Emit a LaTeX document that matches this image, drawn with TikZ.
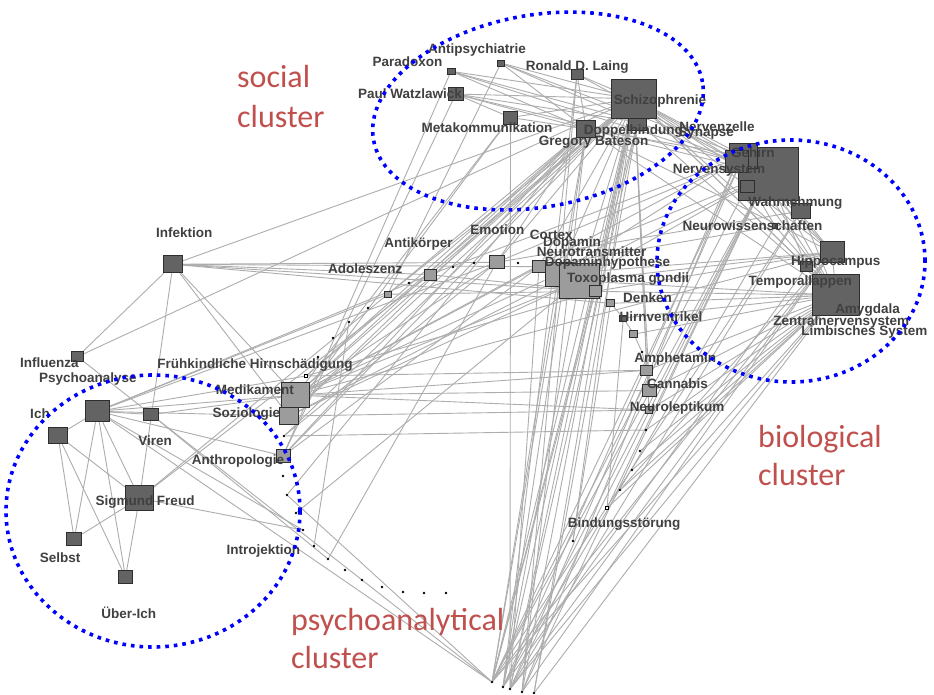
\documentclass[tikz,border=0pt]{standalone}
\usepackage{fontspec}
\newfontfamily\labfont{Liberation Sans}
\newfontfamily\clfont{Carlito}
\definecolor{dkfill}{HTML}{636363}
\definecolor{ltfill}{HTML}{9C9C9C}
\definecolor{dkline}{HTML}{2E2E2E}
\definecolor{edgegray}{HTML}{ADADAD}
\definecolor{labgray}{HTML}{404040}
\definecolor{redc}{HTML}{C0504D}
\pgfdeclarelayer{back}
\pgfdeclarelayer{bg}
\pgfsetlayers{back,bg,main}
\begin{document}
\begin{tikzpicture}[x=1pt,y=-1pt,
  dk/.style={rectangle,draw=dkline,fill=dkfill,line width=0.9pt,inner sep=0pt},
  lt/.style={rectangle,draw=dkline,fill=ltfill,line width=0.9pt,inner sep=0pt},
  sz/.style 2 args={minimum width=#1pt,minimum height=#2pt},
  tdot/.style={circle,fill=black,inner sep=0pt,minimum size=2.6pt},
  sdot/.style={rectangle,draw=black,fill=white,line width=0.7pt,inner sep=0pt,minimum size=3.6pt},
  edge/.style={draw=edgegray,line width=0.9pt},
  lab/.style={font=\labfont\bfseries\fontsize{13.5}{14}\selectfont,text=labgray,inner sep=0pt},
  redlab/.style={font=\clfont\fontsize{32}{32}\selectfont,text=redc,inner sep=0pt,anchor=base west},
  cluster/.style={draw=blue,line width=3.6pt,dash pattern=on 3.6pt off 5pt}
]
\useasboundingbox (0,0) rectangle (934,694);
\begin{pgfonlayer}{back}
\fill[white] (0,0) rectangle (934,694);
\end{pgfonlayer}

% ---- social cluster nodes
\node[dk,sz={8}{6}] (para) at (451,71.3) {};
\node[dk,sz={7}{6}] (anti) at (501,63) {};
\node[dk,sz={12}{10}] (laing) at (577,74.3) {};
\node[dk,sz={15}{13}] (watz) at (455.8,94) {};
\node[dk,sz={14}{13}] (meta) at (510.5,117.5) {};
\node[dk,sz={18}{16}] (schizoB) at (637.7,122) {};
\node[dk,sz={45}{39}] (schizo) at (634.3,98.8) {};
\node[dk,sz={19}{17}] (doppel) at (586.3,129) {};
% ---- biological cluster nodes
\node[dk,sz={60}{53}] (big) at (768,174) {};
\node[dk,sz={28}{25}] (gehirn) at (743.5,156) {};
\node[dk,sz={23}{22}] (nsys) at (737,161.5) {};
\node[dk,sz={14}{12}] (smallg) at (747,186) {};
\node[dk,sz={19}{15}] (wahr) at (801,211) {};
\node[dk,sz={5}{5}] (neurow) at (775,226) {};
\node[dk,sz={24}{21}] (hippo) at (832.3,252.3) {};
\node[dk,sz={12}{10}] (tempo) at (806.7,266.7) {};
\node[dk,sz={47}{41}] (amyg) at (835.8,295.3) {};
% ---- left / psychoanalytical nodes
\node[dk,sz={19}{17}] (infek) at (173,264.3) {};
\node[dk,sz={12}{10}] (influ) at (77.5,356.7) {};
\node[dk,sz={24}{21}] (psy) at (97.5,411.3) {};
\node[dk,sz={19}{16}] (ich) at (58,435.3) {};
\node[dk,sz={15}{12}] (viren) at (151.3,414.5) {};
\node[dk,sz={28}{25}] (freud) at (139.5,498.2) {};
\node[dk,sz={15}{13}] (selbst) at (74.2,539) {};
\node[dk,sz={14}{13}] (ueber) at (125.5,577) {};
% ---- light middle nodes
\node[lt,sz={28}{25}] (medi) at (295.8,395.2) {};
\node[lt,sz={19}{17}] (sozio) at (288.8,416) {};
\node[lt,sz={14}{13}] (anthro) at (283,455.8) {};
\node[lt,sz={12}{11}] (antik) at (430,274.7) {};
\node[lt,sz={7}{6}] (adol) at (387.8,294.2) {};
\node[lt,sz={15}{13}] (emo) at (496.7,262.3) {};
\node[lt,sz={13}{12}] (cortex) at (539,266.7) {};
\node[lt,sz={27}{24}] (dopa) at (558.5,274) {};
\node[lt,sz={40}{35}] (nt) at (579.3,280.8) {};
\node[lt,sz={12}{11}] (toxo) at (595.5,291.3) {};
\node[lt,sz={8}{7}] (denken) at (610.5,303.3) {};
\node[dk,sz={7}{6}] (hv) at (623.3,318) {};
\node[lt,sz={8}{7}] (hv2) at (633.8,334.2) {};
\node[lt,sz={12}{10}] (amph) at (646.8,370.3) {};
\node[lt,sz={14}{12}] (canna) at (649.5,390.5) {};
\node[lt,sz={7}{7}] (neuro) at (649,410) {};
% ---- tiny nodes
\node[tdot] (d1) at (453,267) {};
\node[tdot] (d2) at (474,263) {};
\node[tdot] (d3) at (518,263) {};
\node[tdot] (d4) at (409,283) {};
\node[tdot] (d5) at (368,308) {};
\node[tdot] (d6) at (349,322) {};
\node[tdot] (d7) at (333,338) {};
\node[tdot] (d8) at (318,357) {};
\node[sdot] (d9) at (306,376) {};
\node[tdot] (d10) at (642,352) {};
\node[tdot] (d11) at (646,430) {};
\node[tdot] (d12) at (640,451) {};
\node[tdot] (d13) at (632,470) {};
\node[tdot] (d14) at (620,490) {};
\node[sdot] (d15) at (607,508) {};
\node[tdot] (d16) at (573,541) {};
\node[tdot] (e1) at (284,436) {};
\node[tdot] (e1b) at (283,476) {};
\node[tdot] (e2) at (287,495) {};
\node[tdot] (e3) at (296,513) {};
\node[tdot] (e4) at (303,530) {};
\node[tdot] (e5) at (314,546) {};
\node[tdot] (e6) at (328,559) {};
\node[tdot] (e7) at (345,570) {};
\node[tdot] (e8) at (362,580) {};
\node[tdot] (e9) at (382,587) {};
\node[tdot] (e10) at (403,592) {};
\node[tdot] (e11) at (424,593) {};
\node[tdot] (e12) at (446,593) {};
\node[tdot] (b1) at (492,682) {};
\node[tdot] (b2) at (503,687) {};
\node[tdot] (b3) at (510,689) {};
\node[tdot] (b4) at (522,692) {};
\node[tdot] (b5) at (534,693) {};

% ---- edges
\begin{pgfonlayer}{bg}
\foreach \a/\b in {
para/schizo, para/doppel, para/nsys, para/anthro, para/schizoB,
anti/schizo, anti/schizoB, anti/doppel, anti/gehirn, anti/adol,
laing/schizo, laing/doppel, laing/nsys,
watz/schizo, watz/schizoB, watz/doppel, watz/nsys, watz/anthro, watz/meta,
meta/schizo, meta/doppel, meta/medi, meta/sozio,
schizo/gehirn, schizo/big, schizo/nsys, schizo/wahr, schizo/hippo, schizo/amyg, schizo/neurow, schizo/tempo,
doppel/big, doppel/hippo, doppel/amyg, doppel/gehirn,
schizoB/big, schizoB/amyg,
infek/influ, infek/freud, infek/emo, infek/cortex, infek/toxo, infek/denken, infek/antik, infek/schizo, infek/medi, infek/sozio,
influ/viren, influ/schizo,
psy/ich, psy/viren, psy/freud, psy/selbst, psy/ueber, psy/medi, psy/sozio, psy/anthro, psy/e4, psy/b1, psy/adol, psy/emo, psy/d9, psy/antik,
ich/selbst, ich/ueber, ich/freud,
freud/ueber, freud/selbst, freud/e4, freud/antik, freud/adol,
viren/b1, viren/e6, viren/medi,
medi/schizo, medi/doppel, medi/gehirn, medi/cortex, medi/dopa, medi/nt, medi/emo, medi/amph, medi/canna, medi/neuro, medi/hippo,
sozio/schizo, sozio/doppel, sozio/nt, sozio/big, sozio/neuro,
anthro/schizo, anthro/doppel, anthro/cortex,
d9/schizo, d9/toxo, d9/amph, d9/doppel,
e1/d11, e1/emo, e1/schizo,
e2/doppel, e2/b1, e3/nt,
d6/e5, emo/e6,
adol/schizo, adol/doppel, adol/toxo,
antik/schizo, antik/toxo, antik/gehirn,
emo/schizo, emo/doppel, emo/wahr, emo/nsys,
cortex/schizo, cortex/big, cortex/neurow,
dopa/gehirn, dopa/schizo, dopa/hippo,
nt/big, nt/schizo, nt/amyg, nt/hippo,
toxo/hippo, toxo/amyg, toxo/schizo,
denken/amyg, denken/hv, hv/amyg, hv2/amyg, hv/hv2, hv2/d10, d10/amph,
amph/amyg, canna/amyg, neuro/amyg, amph/schizo, canna/schizo, neuro/schizo,
d11/amyg, d12/amyg, d13/amyg, d14/amyg, d15/amyg, d15/big, d14/hippo, d16/schizo, hv/d15, denken/d16,
big/hippo, big/amyg, big/wahr, gehirn/hippo, gehirn/amyg, nsys/amyg, nsys/hippo, wahr/amyg,
neurow/amyg, hippo/amyg, tempo/amyg, gehirn/wahr, big/tempo, nsys/neurow,
schizo/b1, schizo/b2, schizo/b3, schizo/b4, schizo/b5, schizoB/b1, schizoB/b3, schizoB/b5,
doppel/b1, doppel/b2, doppel/b4, dopa/b1, nt/b2, toxo/b1, cortex/b3,
big/b1, big/b2, big/b3, big/b4, gehirn/b1, gehirn/b3, nsys/b2, nsys/b4, smallg/b1,
wahr/b1, wahr/b3, neurow/b2, hippo/b1, hippo/b3, hippo/b4, tempo/b2,
amyg/b1, amyg/b3, amyg/b5, meta/b3, laing/b4, laing/b2}
  \draw[edge] (\a) -- (\b);
\end{pgfonlayer}

% ---- labels
\foreach \x/\y/\t [count=\i] in {
477/50/Antipsychiatrie, 407.5/61.7/Paradoxon, 577.3/66.7/Ronald D. Laing,
410/93.3/Paul Watzlawick, 660/100.7/Schizophrenie, 487/127.3/Metakommunikation,
717/126.7/Nervenzelle, 706/133.3/Synapse, 633.3/131/Doppelbindung, 593.7/142.7/Gregory Bateson,
752.8/152.7/Gehirn, 719/170/Nervensystem, 795.3/203.3/Wahrnehmung,
752.5/226/Neurowissenschaften, 835.7/261.7/Hippocampus, 800.3/282.3/Temporallappen,
867.5/310/Amygdala, 841.3/321.7/Zentralnervensystem, 864.3/332.3/Limbisches System,
184.3/232.7/Infektion, 418.5/244.3/Antikörper, 365.2/268.3/Adoleszenz,
497.3/230/Emotion, 551.3/235/Cortex, 572/242.7/Dopamin,
591.7/251.7/Neurotransmitter, 607.5/263.3/Dopaminhypothese, 628/279.3/Toxoplasma gondii,
647.5/297.3/Denken, 661/316.7/Hirnventrikel, 675.3/359/Amphetamin,
677.5/383.3/Cannabis, 677/408.3/Neuroleptikum, 624.2/524/Bindungsstörung,
49.3/362.7/Influenza, 87.8/379/Psychoanalyse, 40/413.3/Ich,
155.2/440.7/Viren, 145/501.7/Sigmund Freud, 60.2/557.7/Selbst,
128.8/612.3/Über-Ich, 255/365/Frühkindliche Hirnschädigung, 254.8/389.3/Medikament,
246.3/414/Soziologie, 238/461/Anthropologie, 263.3/550.7/Introjektion}
  \node[lab] (lab\i) at (\x,\y) {\t};

% ---- cluster ellipses
\draw[cluster, rotate around={10:(538,111)}] (538,111) ellipse [x radius=167pt, y radius=96pt];
\draw[cluster] (791,261) ellipse [x radius=134pt, y radius=121pt];
\draw[cluster] (153,511) ellipse [x radius=147pt, y radius=136pt];

% ---- cluster names
\node[redlab] (soc1) at (237,87) {social};
\node[redlab] (soc2) at (237,127) {cluster};
\node[redlab] (bio1) at (758,447) {biological};
\node[redlab] (bio2) at (758,485) {cluster};
\node[redlab] (psa1) at (291,630) {psychoanalytical};
\node[redlab] (psa2) at (291,668) {cluster};
\end{tikzpicture}
\end{document}
